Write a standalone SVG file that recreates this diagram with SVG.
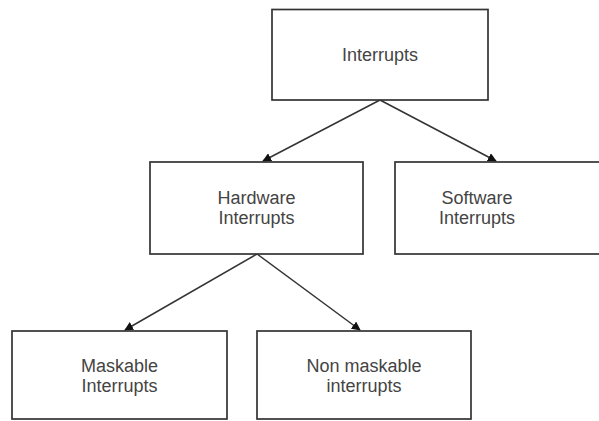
<svg xmlns="http://www.w3.org/2000/svg" width="599" height="421" viewBox="0 0 599 421">
<defs>
<style>
.box{fill:#fff;stroke:#333;stroke-width:1.7}
.lbl{font-family:"Liberation Sans",Arial,sans-serif;font-size:18px;fill:#444;text-anchor:middle}
.edge{stroke:#333;stroke-width:1.5;fill:none}
</style>
<marker id="arr" viewBox="0 0 10 10" refX="9" refY="5" markerWidth="9" markerHeight="9" markerUnits="userSpaceOnUse" orient="auto">
<path d="M0,0 L10,5 L0,10 Z" fill="#111"/>
</marker>
</defs>
<rect width="599" height="421" fill="#fff"/>
<g id="connectors">
<line class="edge" x1="380" y1="100" x2="263" y2="161" marker-end="url(#arr)"/>
<line class="edge" x1="380" y1="100" x2="496" y2="161" marker-end="url(#arr)"/>
<line class="edge" x1="257" y1="254" x2="125" y2="330" marker-end="url(#arr)"/>
<line class="edge" x1="257" y1="254" x2="360" y2="330" marker-end="url(#arr)"/>
</g>
<g id="interrupts">
<rect class="box" x="272" y="9.5" width="216" height="90.5"/>
<text class="lbl" x="380" y="61">Interrupts</text>
</g>
<g id="hardware">
<rect class="box" x="150" y="162" width="213" height="92"/>
<text class="lbl" x="256.5" y="204">Hardware</text>
<text class="lbl" x="256.5" y="224">Interrupts</text>
</g>
<g id="software">
<rect class="box" x="395" y="162" width="208" height="92"/>
<text class="lbl" x="477" y="204">Software</text>
<text class="lbl" x="477" y="224">Interrupts</text>
</g>
<g id="maskable">
<rect class="box" x="12" y="331" width="215" height="88"/>
<text class="lbl" x="119.5" y="372">Maskable</text>
<text class="lbl" x="119.5" y="392">Interrupts</text>
</g>
<g id="nonmaskable">
<rect class="box" x="257" y="331" width="214" height="88"/>
<text class="lbl" x="364" y="372">Non maskable</text>
<text class="lbl" x="364" y="392">interrupts</text>
</g>
</svg>
